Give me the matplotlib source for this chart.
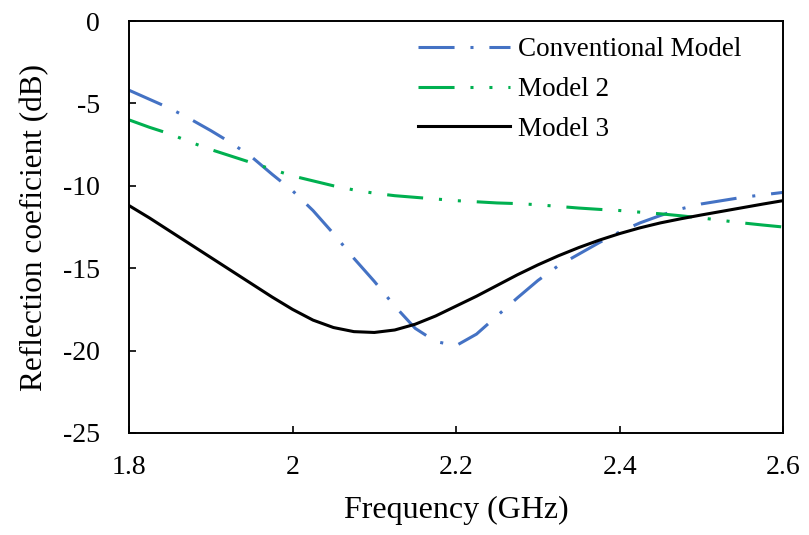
import matplotlib
matplotlib.use("Agg")
import matplotlib.pyplot as plt

plt.rcParams["font.family"] = ["Liberation Serif", "DejaVu Serif"]
plt.rcParams["axes.unicode_minus"] = False

# ── Data ──────────────────────────────────────────────────────────────────────
freq = [1.800, 1.825, 1.850, 1.875, 1.900, 1.925, 1.950, 1.975,
        2.000, 2.025, 2.050, 2.075, 2.100, 2.125, 2.150, 2.175,
        2.200, 2.225, 2.250, 2.275, 2.300, 2.325, 2.350, 2.375,
        2.400, 2.425, 2.450, 2.475, 2.500, 2.525, 2.550, 2.575, 2.600]
conventional = [-4.2, -4.75, -5.3, -5.95, -6.65, -7.4, -8.25, -9.3,
                -10.3, -11.5, -12.9, -14.4, -15.8, -17.3, -18.65, -19.45,
                -19.7, -19.0, -17.9, -16.8, -15.75, -14.85, -14.15, -13.45,
                -12.8, -12.25, -11.8, -11.4, -11.1, -10.9, -10.7, -10.55,
                -10.4]
model2 = [-6.0, -6.45, -6.85, -7.35, -7.8, -8.2, -8.6, -9.0,
          -9.4, -9.7, -10.0, -10.25, -10.45, -10.6, -10.7, -10.8,
          -10.9, -10.97, -11.04, -11.08, -11.15, -11.25, -11.35, -11.43,
          -11.5, -11.6, -11.7, -11.82, -11.95, -12.1, -12.25, -12.38,
          -12.5]
model3 = [-11.2, -11.95, -12.75, -13.55, -14.35, -15.15, -15.95, -16.75,
          -17.5, -18.15, -18.6, -18.85, -18.9, -18.75, -18.4, -17.9,
          -17.3, -16.7, -16.05, -15.4, -14.8, -14.25, -13.75, -13.3,
          -12.9, -12.55, -12.25, -12.0, -11.77, -11.55, -11.33, -11.11,
          -10.9]

x_ticks = [1.8, 2.0, 2.2, 2.4, 2.6]
x_tick_labels = ["1.8", "2", "2.2", "2.4", "2.6"]
y_ticks = [0, -5, -10, -15, -20, -25]


def main():
    fig = plt.figure(figsize=(8.09, 5.35), dpi=100)
    ax = fig.add_axes([0.1595, 0.1907, 0.8085, 0.77])

    lw = 2.2
    ax.plot(freq, conventional, color="#4472C4", linewidth=lw,
            dashes=(11.8, 5.2, 1.0, 5.2), label="Conventional Model")
    ax.plot(freq, model2, color="#00B050", linewidth=lw,
            dashes=(11.8, 5.2, 1.0, 5.2, 1.0, 5.2), label="Model 2")
    ax.plot(freq, model3, color="black", linewidth=lw, label="Model 3")

    ax.set_xlim(1.8, 2.6)
    ax.set_ylim(-25, 0)
    ax.set_xticks(x_ticks)
    ax.set_xticklabels(x_tick_labels)
    ax.set_yticks(y_ticks)
    ax.tick_params(direction="in", length=5, width=1.2, labelsize=20)
    ax.tick_params(axis="x", pad=16)
    ax.tick_params(axis="y", pad=21)
    for sp in ax.spines.values():
        sp.set_linewidth(1.4)

    ax.set_xlabel("Frequency (GHz)", fontsize=23)
    ax.set_ylabel("Reflection coeficient (dB)", fontsize=22.5)
    ax.xaxis.set_label_coords(0.5, -0.152)
    ax.yaxis.set_label_coords(-0.122, 0.5)

    ax.legend(loc="upper left", frameon=False, fontsize=19.5,
              handlelength=3.4, handletextpad=0.3, labelspacing=0.55,
              borderpad=0, borderaxespad=0, bbox_to_anchor=(0.442, 0.961))

    fig.savefig("out.png", dpi=100)
    plt.close(fig)


if __name__ == "__main__":
    main()
